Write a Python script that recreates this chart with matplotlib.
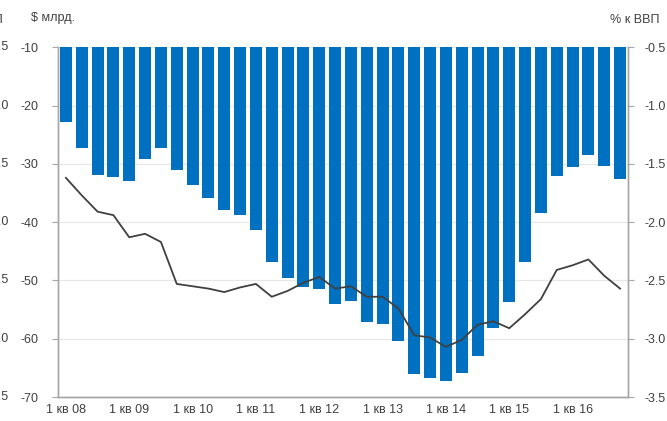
import matplotlib
matplotlib.use("Agg")
import matplotlib.pyplot as plt
import numpy as np

plt.rcParams['font.family'] = ['Liberation Sans', 'DejaVu Sans']

years = ['08', '09', '10', '11', '12', '13', '14', '15', '16']
tick_labels = ['1 кв ' + y for y in years]

bars_bn = [-22.9, -27.2, -31.9, -32.2, -32.9, -29.2, -27.2, -31.0, -33.6, -35.9,
           -38.0, -38.8, -41.3, -46.8, -49.5, -51.2, -51.5, -54.0, -53.5, -57.1,
           -57.5, -60.4, -66.1, -66.8, -67.2, -65.9, -62.9, -58.1, -53.7, -46.8,
           -38.4, -32.0, -30.6, -28.5, -30.4, -32.6]

line_gdp = [-1.62, -1.77, -1.91, -1.94, -2.13, -2.10, -2.17, -2.53, -2.55, -2.57,
            -2.60, -2.56, -2.53, -2.64, -2.59, -2.52, -2.47, -2.57, -2.55, -2.64,
            -2.64, -2.74, -2.97, -2.99, -3.07, -3.01, -2.88, -2.85, -2.91, -2.79,
            -2.66, -2.41, -2.37, -2.32, -2.46, -2.57]

left_ticks = [-10, -20, -30, -40, -50, -60, -70]
right_ticks = [-0.5, -1.0, -1.5, -2.0, -2.5, -3.0, -3.5]

W, H = 667, 421
fig = plt.figure(figsize=(W / 100, H / 100), dpi=100)
ax = fig.add_axes([58 / W, 1 - 397 / H, (628 - 58) / W, (397 - 47.3) / H])
ax2 = ax.twinx()

x = np.arange(len(bars_bn))
base = -10
ax.bar(x, np.array(bars_bn) - base, bottom=base, width=0.75, color='#0070C0', zorder=3)
ax.set_ylim(-70, -10)
ax.set_xlim(-0.5, len(bars_bn) - 0.5)
ax.set_yticks(left_ticks)
ax.set_yticklabels([str(t) for t in left_ticks])
ax.grid(axis='y', color='#e6e6e6', linewidth=0.8, zorder=0)
ax.set_axisbelow(True)
ax.set_xticks(x[::4])
ax.set_xticklabels(tick_labels)

ax2.plot(x, line_gdp, color='#404040', linewidth=1.3, zorder=4)
ax2.set_ylim(-3.5, -0.5)
ax2.set_yticks(right_ticks)
ax2.set_yticklabels([f'{t:.1f}' for t in right_ticks])

for a in (ax, ax2):
    a.spines['top'].set_visible(False)
    for s in ['left', 'right', 'bottom']:
        a.spines[s].set_color('#a6a6a6')
        a.spines[s].set_linewidth(1.0)
    a.tick_params(axis='both', colors='#a6a6a6', labelcolor='#404040',
                  labelsize=9, length=4, width=0.8)
ax.tick_params(axis='x', length=0, pad=5)
ax.tick_params(axis='y', pad=10)
ax2.tick_params(axis='y', pad=8)

fig.text(31 / W, 1 - 18 / H, '$ млрд.', fontsize=9, color='#404040', va='center', ha='left')
fig.text(659 / W, 1 - 20 / H, '% к ВВП', fontsize=9, color='#404040', va='center', ha='right')

# cropped labels of the neighbouring chart at the far left
fig.text(3 / W, 1 - 20 / H, 'ВВП', fontsize=9, color='#404040', va='center', ha='right')
for t, v in zip(right_ticks, left_ticks):
    yy = 47.3 + (v - (-10)) / (-60) * (397 - 47.3)
    fig.text(9 / W, 1 - yy / H, f'{t:.1f}', fontsize=9, color='#404040',
             va='center', ha='right')

fig.savefig('out.png', dpi=100)
